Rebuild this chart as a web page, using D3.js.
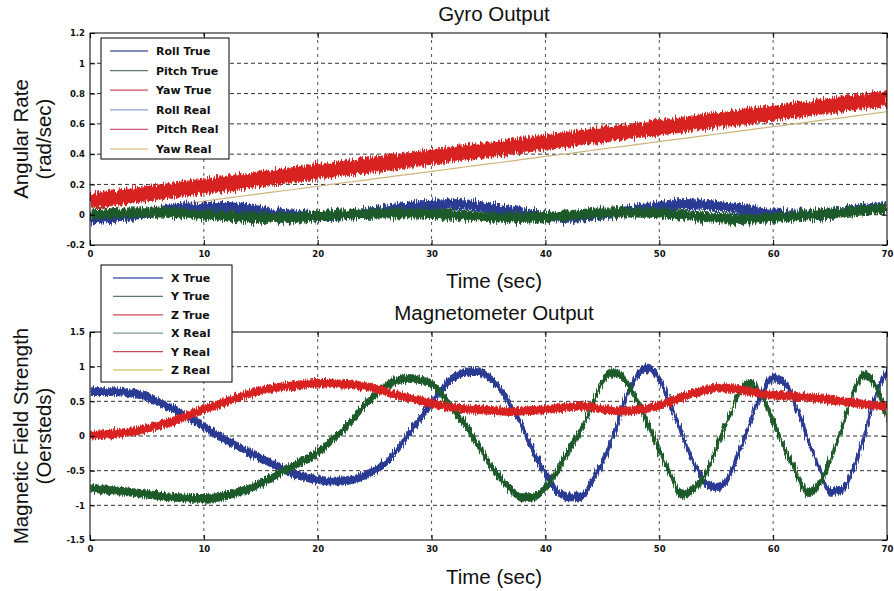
<!DOCTYPE html>
<html><head><meta charset="utf-8">
<script src="https://cdn.jsdelivr.net/npm/d3@7"></script>
<style>body{margin:0;background:#fff}svg{display:block}</style>
</head><body>
<svg id="c" width="894" height="591"></svg>
<script>
// ---------------- DATA ----------------
const timeTicks = [0,10,20,30,40,50,60,70];
const timeTickLabels = ["0","10","20","30","40","50","60","70"];

// Gyro panel
const gyroTime = [0,2,4,6,8,10,12,14,16,18,20,22,24,26,28,30,32,34,36,38,40,42,44,46,48,50,52,54,56,58,60,62,64,66,68,70];
const rollTrue  = [-0.03,-0.02,0.0,0.02,0.045,0.05,0.05,0.035,0.01,0.0,-0.01,-0.005,0.01,0.03,0.055,0.065,0.07,0.06,0.035,0.01,-0.015,-0.02,-0.005,0.01,0.035,0.055,0.07,0.065,0.05,0.03,0.01,0.0,0.0,0.02,0.04,0.05];
const pitchTrue = [0.0,0.01,0.015,0.015,0.01,0.0,-0.01,-0.02,-0.02,-0.02,-0.01,0.0,0.005,0.01,0.01,0.005,0.0,-0.01,-0.02,-0.02,-0.015,-0.005,0.01,0.015,0.015,0.01,0.0,-0.015,-0.025,-0.03,-0.02,-0.01,0.0,0.015,0.03,0.04];
const yawTrue   = [0.09,0.109,0.129,0.148,0.168,0.187,0.206,0.226,0.245,0.265,0.284,0.303,0.323,0.342,0.362,0.381,0.400,0.420,0.439,0.459,0.478,0.497,0.517,0.536,0.556,0.575,0.594,0.614,0.633,0.653,0.672,0.691,0.711,0.730,0.750,0.770];
const rollReal  = [0.0,0.0,0.01,0.02,0.035,0.04,0.04,0.03,0.01,0.0,-0.005,0.0,0.01,0.025,0.045,0.055,0.06,0.05,0.03,0.01,-0.01,-0.015,0.0,0.01,0.03,0.045,0.06,0.055,0.045,0.025,0.01,0.0,0.0,0.015,0.03,0.04];
const pitchReal = [0.005,0.01,0.012,0.012,0.008,0.0,-0.008,-0.015,-0.015,-0.015,-0.008,0.0,0.005,0.008,0.008,0.004,0.0,-0.008,-0.015,-0.015,-0.012,-0.004,0.008,0.012,0.012,0.008,0.0,-0.012,-0.02,-0.025,-0.015,-0.008,0.0,0.012,0.025,0.035];
const yawReal   = [-0.01,0.01,0.03,0.05,0.07,0.09,0.109,0.129,0.149,0.168,0.188,0.208,0.227,0.247,0.267,0.286,0.306,0.326,0.345,0.365,0.385,0.404,0.424,0.444,0.463,0.483,0.503,0.522,0.542,0.562,0.581,0.601,0.621,0.640,0.660,0.680];
const gyroYTicks = [-0.2,0,0.2,0.4,0.6,0.8,1,1.2];
const gyroYTickLabels = ["-0.2","0","0.2","0.4","0.6","0.8","1","1.2"];
const gyroLegend = ["Roll True","Pitch True","Yaw True","Roll Real","Pitch Real","Yaw Real"];

// Magnetometer panel
const magTime = [0,1,2,3,4,5,6,7,8,9,10,11,12,13,14,15,16,17,18,19,20,21,22,23,24,25,26,27,28,29,30,31,32,33,34,35,36,37,38,39,40,41,42,43,44,45,46,47,48,49,50,51,52,53,54,55,56,57,58,59,60,61,62,63,64,65,66,67,68,69,70];
const xTrue = [0.64,0.64,0.64,0.63,0.61,0.56,0.49,0.41,0.33,0.24,0.14,0.03,-0.06,-0.15,-0.24,-0.32,-0.40,-0.48,-0.55,-0.60,-0.63,-0.65,-0.65,-0.63,-0.58,-0.50,-0.38,-0.20,0.03,0.25,0.48,0.70,0.85,0.92,0.93,0.85,0.68,0.43,0.12,-0.24,-0.55,-0.78,-0.88,-0.88,-0.68,-0.38,0.02,0.52,0.86,0.98,0.82,0.45,0.02,-0.38,-0.66,-0.74,-0.62,-0.24,0.21,0.62,0.84,0.76,0.45,-0.02,-0.45,-0.80,-0.78,-0.48,0.0,0.60,0.92];
const yTrue = [-0.75,-0.77,-0.79,-0.80,-0.82,-0.84,-0.86,-0.88,-0.89,-0.90,-0.90,-0.89,-0.86,-0.81,-0.76,-0.68,-0.60,-0.50,-0.42,-0.33,-0.24,-0.10,0.05,0.22,0.42,0.58,0.72,0.80,0.83,0.81,0.75,0.58,0.36,0.15,-0.10,-0.38,-0.60,-0.78,-0.89,-0.88,-0.74,-0.52,-0.22,0.05,0.40,0.78,0.92,0.80,0.52,0.18,-0.20,-0.55,-0.85,-0.76,-0.58,-0.18,0.22,0.62,0.76,0.58,0.22,-0.18,-0.50,-0.82,-0.70,-0.36,0.10,0.60,0.88,0.72,0.25];
const zTrue = [0.01,0.02,0.03,0.05,0.07,0.11,0.15,0.20,0.26,0.32,0.38,0.44,0.50,0.56,0.61,0.65,0.69,0.71,0.73,0.75,0.76,0.76,0.75,0.74,0.72,0.69,0.64,0.59,0.55,0.51,0.47,0.43,0.41,0.39,0.38,0.37,0.36,0.35,0.36,0.37,0.38,0.40,0.42,0.43,0.42,0.39,0.37,0.36,0.37,0.40,0.44,0.50,0.56,0.62,0.66,0.69,0.69,0.67,0.64,0.61,0.59,0.58,0.57,0.56,0.54,0.52,0.50,0.48,0.46,0.44,0.43];
const magYTicks = [-1.5,-1,-0.5,0,0.5,1,1.5];
const magYTickLabels = ["-1.5","-1","-0.5","0","0.5","1","1.5"];
const magLegend = ["X True","Y True","Z True","X Real","Y Real","Z Real"];

// ---------------- STYLE ----------------
const C = {blue:"#2c3a94", green:"#1f5a2c", red:"#d82424", tan:"#cfb47a"};
const gyroLegendColors = ["#5a66b0","#62786a","#d05060","#8ea2d2","#cc5a7c","#e0c89c"];
const magLegendColors  = ["#5262b0","#62786a","#d44858","#7c9898","#cc4a60","#d4cc78"];
const FONT = "'Liberation Sans', Arial, sans-serif";
const BOLD = "'DejaVu Sans', Verdana, sans-serif";

const svg = d3.select("#c");
const defs = svg.append("defs");
function jag(id, scale) {
  const f = defs.append("filter").attr("id", id)
    .attr("x", "-0.02").attr("y", "-0.4").attr("width", "1.04").attr("height", "1.8");
  f.append("feTurbulence").attr("type","fractalNoise").attr("baseFrequency","0.9 0.06")
    .attr("numOctaves", 2).attr("seed", 4).attr("result","n");
  f.append("feDisplacementMap").attr("in","SourceGraphic").attr("in2","n")
    .attr("scale", scale).attr("xChannelSelector","G").attr("yChannelSelector","R");
}
jag("jagTop", 11);
jag("jagBot", 7);

const X0 = 90, X1 = 887;
const TITLE_X = 494;

function panel(o) {
  const x = d3.scaleLinear().domain([0,70]).range([X0, X1]);
  const y = d3.scaleLinear().domain(o.ydom).range([o.bottom, o.top]);
  const g = svg.append("g");
  const clipId = "clip" + o.id;
  defs.append("clipPath").attr("id", clipId).append("rect")
    .attr("x", X0).attr("y", o.top).attr("width", X1 - X0).attr("height", o.bottom - o.top);

  // grid
  g.append("g").selectAll("line").data(o.yticks.slice(1, -1)).join("line")
    .attr("x1", X0).attr("x2", X1).attr("y1", d => y(d)).attr("y2", d => y(d))
    .attr("stroke", "#333").attr("stroke-width", 1).attr("stroke-dasharray", "4,3");
  g.append("g").selectAll("line").data(timeTicks.slice(1, -1)).join("line")
    .attr("y1", o.top).attr("y2", o.bottom).attr("x1", d => x(d)).attr("x2", d => x(d))
    .attr("stroke", "#555").attr("stroke-width", 1).attr("stroke-dasharray", "3,4");

  const plot = g.append("g").attr("clip-path", `url(#${clipId})`);
  // thin "real" lines
  o.lines.forEach(s => {
    plot.append("path").datum(o.time.map((t, i) => [t, s.v[i]]))
      .attr("fill", "none").attr("stroke", s.color).attr("stroke-width", 1.2)
      .attr("d", d3.line().x(d => x(d[0])).y(d => y(d[1])).curve(d3.curveMonotoneX));
  });
  // noisy "true" bands
  o.bands.forEach(s => {
    plot.append("path").datum(o.time.map((t, i) => [t, s.v[i]]))
      .attr("fill", s.color).attr("stroke", s.color).attr("stroke-width", 1)
      .attr("filter", `url(#${o.filter})`)
      .attr("d", d3.area().x(d => x(d[0])).y0(d => y(d[1] - s.hw)).y1(d => y(d[1] + s.hw)).curve(d3.curveMonotoneX));
  });

  // axes
  const tickFont = g => g.selectAll("text").attr("font-family", BOLD).attr("font-weight", "bold")
    .attr("font-size", 8.5).attr("fill", "#111");
  const axL = g.append("g").attr("transform", `translate(${X0},0)`)
    .call(d3.axisLeft(y).tickValues(o.yticks).tickFormat((d, i) => o.ylabels[i]).tickSizeInner(-5).tickSizeOuter(0).tickPadding(5));
  axL.call(tickFont);
  const axB = g.append("g").attr("transform", `translate(0,${o.bottom})`)
    .call(d3.axisBottom(x).tickValues(timeTicks).tickFormat((d, i) => timeTickLabels[i]).tickSizeInner(-5).tickSizeOuter(0).tickPadding(6));
  axB.call(tickFont);
  g.append("g").attr("transform", `translate(${X1},0)`)
    .call(d3.axisRight(y).tickValues(o.yticks).tickFormat("").tickSizeInner(-5).tickSizeOuter(0));
  g.append("g").attr("transform", `translate(0,${o.top})`)
    .call(d3.axisTop(x).tickValues(timeTicks).tickFormat("").tickSizeInner(-5).tickSizeOuter(0));
  g.selectAll(".domain").remove();
  g.selectAll(".tick line").attr("stroke", "#000");
  g.append("rect").attr("x", X0).attr("y", o.top).attr("width", X1 - X0).attr("height", o.bottom - o.top)
    .attr("fill", "none").attr("stroke", "#000").attr("stroke-width", 1);

  // titles
  svg.append("text").attr("x", TITLE_X).attr("y", o.titleY).attr("text-anchor", "middle")
    .attr("font-family", FONT).attr("font-size", 20.5).attr("fill", "#111").text(o.title);
  svg.append("text").attr("x", TITLE_X).attr("y", o.xlabelY).attr("text-anchor", "middle")
    .attr("font-family", FONT).attr("font-size", 20.5).attr("fill", "#111").text("Time (sec)");
  const cy = (o.top + o.bottom) / 2;
  o.ylab.forEach((s, i) => {
    svg.append("text").attr("transform", `translate(${28 + i * 23},${cy}) rotate(-90)`)
      .attr("text-anchor", "middle").attr("font-family", FONT).attr("font-size", 20.5).attr("fill", "#111").text(s);
  });
}

function legend(o) {
  const g = svg.append("g");
  g.append("rect").attr("x", o.x).attr("y", o.y).attr("width", o.w).attr("height", o.h)
    .attr("fill", "#fff").attr("stroke", "#000").attr("stroke-width", 1);
  o.labels.forEach((s, i) => {
    const yy = o.row0 + i * o.dy;
    g.append("line").attr("x1", o.lx0).attr("x2", o.lx1).attr("y1", yy).attr("y2", yy)
      .attr("stroke", o.colors[i]).attr("stroke-width", 1.3);
    g.append("text").attr("x", o.tx).attr("y", yy + 4).attr("font-family", BOLD)
      .attr("font-weight", "bold").attr("font-size", 11).attr("fill", "#111").text(s);
  });
}

panel({
  id: "g", top: 33, bottom: 245, ydom: [-0.2, 1.2], yticks: gyroYTicks, ylabels: gyroYTickLabels,
  time: gyroTime, filter: "jagTop",
  lines: [{v: rollReal, color: "#7e96cc"}, {v: pitchReal, color: "#c8406a"}, {v: yawReal, color: C.tan}],
  bands: [{v: yawTrue, color: C.red, hw: 0.048}, {v: rollTrue, color: C.blue, hw: 0.03}, {v: pitchTrue, color: C.green, hw: 0.03}],
  title: "Gyro Output", titleY: 21, xlabelY: 288, ylab: ["Angular Rate", "(rad/sec)"]
});
panel({
  id: "m", top: 332, bottom: 540, ydom: [-1.5, 1.5], yticks: magYTicks, ylabels: magYTickLabels,
  time: magTime, filter: "jagBot",
  lines: [{v: xTrue, color: "#6a8a8a"}, {v: zTrue, color: "#c8304a"}, {v: yTrue, color: "#cfc45a"}],
  bands: [{v: xTrue, color: C.blue, hw: 0.055}, {v: yTrue, color: C.green, hw: 0.055}, {v: zTrue, color: C.red, hw: 0.055}],
  title: "Magnetometer Output", titleY: 320, xlabelY: 584, ylab: ["Magnetic Field Strength", "(Oersteds)"]
});

legend({x: 101, y: 38, w: 128, h: 121, labels: gyroLegend, colors: gyroLegendColors,
  row0: 51, dy: 19.6, lx0: 110, lx1: 148, tx: 156});
legend({x: 101, y: 265, w: 131, h: 117, labels: magLegend, colors: magLegendColors,
  row0: 278, dy: 18.4, lx0: 113, lx1: 163, tx: 171});
</script>
</body></html>
